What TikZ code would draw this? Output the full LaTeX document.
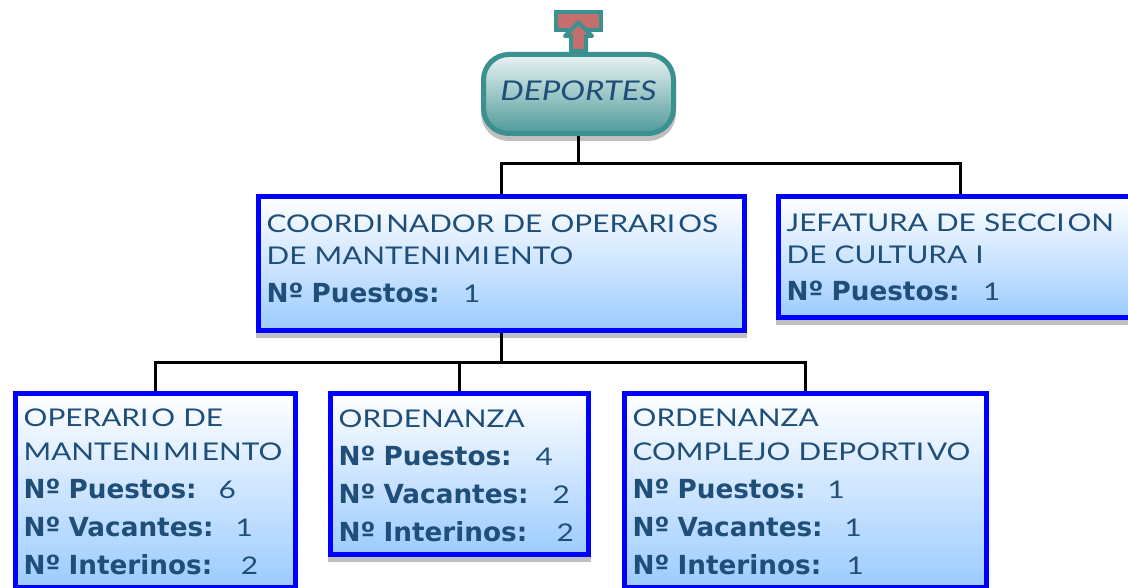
\documentclass[tikz,border=0pt]{standalone}
\usepackage{fontspec}
\setmainfont[FakeStretch=1.22]{Lato}
\newfontfamily\boldface{DejaVu Sans Bold}
\usetikzlibrary{positioning,arrows,shadows}
\definecolor{inkblue}{HTML}{1F4E79}
\definecolor{tealline}{HTML}{3B9090}
\definecolor{tealdark}{HTML}{4F9A9A}
\definecolor{roseicon}{HTML}{C66E6E}
\definecolor{skyend}{HTML}{9CCBFF}
\newcommand{\ifix}{I\kern2.2pt}
\newcommand{\rowlabel}[1]{{\boldface\fontsize{19.7}{19.7}\selectfont #1}}
\begin{document}
\begin{tikzpicture}[x=0.75pt,y=-0.75pt,link/.style={draw=black,line width=2.25pt},
    lowshadow/.style={drop shadow={shadow xshift=0pt,shadow yshift=-3.75pt,draw=black!25,fill=black!25,opacity=1}},
    post/.style={draw=blue,line width=4pt,top color=white,bottom color=skyend,lowshadow,
        anchor=north west,align=left,text=inkblue,inner xsep=6pt,inner ysep=0pt,
        minimum width=#1,text width=#1-12pt,
        font=\fontsize{18.3}{25}\selectfont}]
    \useasboundingbox (0,0) rectangle (1128,588);

    \node[draw=tealline,line width=3.75pt,rounded corners=19pt,top color=white!88!tealdark,bottom color=tealdark,lowshadow,
        minimum width=142.5pt,minimum height=59.25pt,text=inkblue,
        font=\fontsize{20.4}{25}\selectfont\itshape] (deportes) at (578.5,94) {\raisebox{5pt}{DEPORTES}};

    \node[post=364.5pt,minimum height=100.5pt] (coordinador) at (256,194)
        {COORD\ifix NADOR DE OPERAR\ifix OS\\[-1pt]
         DE MANTEN\ifix M\ifix ENTO\\[3pt]
         \rowlabel{Nº Puestos:}\hspace{17.5pt}1\rule[-7.5pt]{0pt}{0pt}};
    \node[post=272.25pt,minimum height=90.75pt] (jefatura) at (776,194)
        {JEFATURA DE SECC\ifix ON\\[-1pt]
         DE CULTURA I\\[3pt]
         \rowlabel{Nº Puestos:}\hspace{17.5pt}1};
    \node[post=210pt,minimum height=145.5pt] (operario) at (13,391)
        {\rule{0pt}{15.25pt}OPERAR\ifix O DE\\[0.5pt]
         MANTEN\ifix M\ifix ENTO\\[3.25pt]
         \rowlabel{Nº Puestos:}\hspace{16.5pt}6\\[3.4pt]
         \rowlabel{Nº Vacantes:}\hspace{16.5pt}1\\[3.4pt]
         \rowlabel{Nº Interinos:}\hspace{21.5pt}2};
    \node[post=193.5pt,minimum height=120.75pt] (ordenanza) at (328,391)
        {\rule{0pt}{16pt}ORDENANZA\\[3.25pt]
         \rowlabel{Nº Puestos:}\hspace{18pt}4\\[3.4pt]
         \rowlabel{Nº Vacantes:}\hspace{18pt}2\\[3.4pt]
         \rowlabel{Nº Interinos:}\hspace{22pt}2};
    \node[post=271.5pt,minimum height=145.5pt] (complejo) at (622,391)
        {\rule{0pt}{15.25pt}ORDENANZA\\[0.5pt]
         COMPLEJO DEPORT\ifix VO\\[3.25pt]
         \rowlabel{Nº Puestos:}\hspace{16.5pt}1\\[3.4pt]
         \rowlabel{Nº Vacantes:}\hspace{16.5pt}1\\[3.4pt]
         \rowlabel{Nº Interinos:}\hspace{19pt}1};

    \coordinate (busA) at (578.5,164);
    \coordinate (busB) at (501.5,362);
    \draw[link] (deportes.south) -- (busA);
    \draw[link] (coordinador.north) |- (busA);
    \draw[link] (jefatura.north) |- (busA);
    \draw[link] (coordinador.south) |- (busB);
    \draw[link] (operario.north) |- (busB);
    \draw[link] (ordenanza.north) |- (busB);
    \draw[link] (complejo.north) |- (busB);

    % icon on top
    \node[draw=tealline,line width=3pt,fill=roseicon,minimum width=33.75pt,minimum height=13.5pt,inner sep=0pt] (topbar) at (578.5,21) {};
    \draw[tealline,line width=3pt,fill=roseicon,line join=round]
        (571,51) -- (571,36) -- (565,36) -- (578.5,22.5) -- (592,36) -- (586,36) -- (586,51) -- cycle;
\end{tikzpicture}
\end{document}
